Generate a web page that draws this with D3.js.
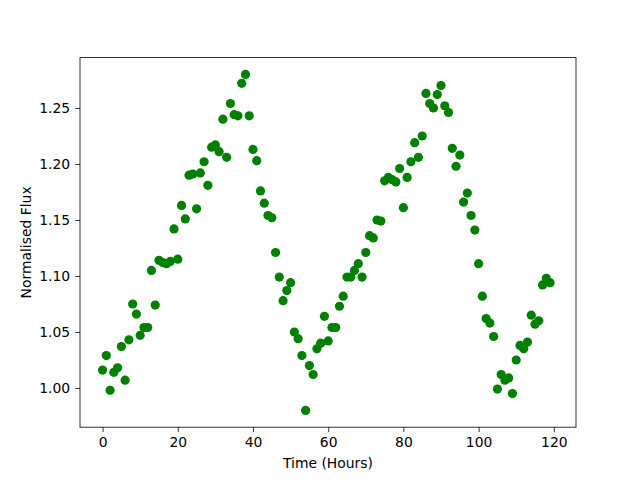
<!DOCTYPE html>
<html>
<head>
<meta charset="utf-8">
<script src="https://cdn.jsdelivr.net/npm/d3@7"></script>
<style>
  body { margin: 0; background: #fff; }
  text { font-family: "DejaVu Sans", sans-serif; }
</style>
</head>
<body>
<div id="chart"></div>
<script>
// time in hours, one reading per hour
var hours = d3.range(0, 120);
var flux = [
  1.016, 1.029, 0.998, 1.014, 1.018, 1.037, 1.007, 1.043, 1.075, 1.066,
  1.047, 1.054, 1.054, 1.105, 1.074, 1.114, 1.112, 1.111, 1.113, 1.142,
  1.115, 1.163, 1.151, 1.190, 1.191, 1.160, 1.192, 1.202, 1.181, 1.215,
  1.217, 1.211, 1.240, 1.206, 1.254, 1.244, 1.243, 1.272, 1.280, 1.243,
  1.213, 1.203, 1.176, 1.165, 1.154, 1.152, 1.121, 1.099, 1.078, 1.087,
  1.094, 1.050, 1.044, 1.029, 0.980, 1.020, 1.012, 1.035, 1.040, 1.064,
  1.042, 1.054, 1.054, 1.073, 1.082, 1.099, 1.099, 1.105, 1.111, 1.099,
  1.121, 1.136, 1.134, 1.150, 1.149, 1.185, 1.188, 1.186, 1.184, 1.196,
  1.161, 1.188, 1.202, 1.219, 1.206, 1.225, 1.263, 1.254, 1.250, 1.262,
  1.270, 1.252, 1.246, 1.214, 1.198, 1.208, 1.166, 1.174, 1.154, 1.141,
  1.111, 1.082, 1.062, 1.058, 1.046, 0.999, 1.012, 1.007, 1.009, 0.995,
  1.025, 1.038, 1.035, 1.041, 1.065, 1.057, 1.060, 1.092, 1.098, 1.094
];
var xTicks = [0, 20, 40, 60, 80, 100, 120];
var yTicks = [1.00, 1.05, 1.10, 1.15, 1.20, 1.25];

var width = 640, height = 480;
var margin = {left: 80, right: 64, top: 57.6, bottom: 52.8};

var svg = d3.select("#chart").append("svg")
    .attr("width", width)
    .attr("height", height);

var x = d3.scaleLinear()
    .domain([-6, 125.9])
    .range([margin.left, width - margin.right]);
var y = d3.scaleLinear()
    .domain([0.965, 1.295])
    .range([height - margin.bottom, margin.top]);

svg.selectAll("circle")
    .data(hours)
    .enter()
    .append("circle")
    .attr("cx", function(d){ return x(d); })
    .attr("cy", function(d, i){ return y(flux[i]); })
    .attr("r", 4.6)
    .attr("fill", "#008000");

var xAxis = svg.append("g")
    .attr("transform", "translate(0," + (height - margin.bottom) + ")")
    .call(d3.axisBottom(x).tickValues(xTicks).tickSize(4.9).tickPadding(4.9).tickFormat(d3.format("d")));
var yAxis = svg.append("g")
    .attr("transform", "translate(" + margin.left + ",0)")
    .call(d3.axisLeft(y).tickValues(yTicks).tickSize(4.9).tickPadding(4.9).tickFormat(d3.format(".2f")));

[xAxis, yAxis].forEach(function(a){
    a.select(".domain").remove();
    a.selectAll("line").attr("stroke", "#000").attr("stroke-width", 0.8);
    a.selectAll("text").attr("font-size", "13.9px").attr("fill", "#000")
        .style("font-family", "'DejaVu Sans', sans-serif");
});

// frame
svg.append("rect")
    .attr("x", margin.left)
    .attr("y", margin.top)
    .attr("width", width - margin.left - margin.right)
    .attr("height", height - margin.top - margin.bottom)
    .attr("fill", "none")
    .attr("stroke", "#000")
    .attr("stroke-width", 0.8);

svg.append("text")
    .attr("x", (margin.left + width - margin.right) / 2)
    .attr("y", 468)
    .attr("text-anchor", "middle")
    .attr("font-size", "13.9px")
    .text("Time (Hours)");

svg.append("text")
    .attr("transform", "translate(31," + ((margin.top + height - margin.bottom) / 2) + ") rotate(-90)")
    .attr("text-anchor", "middle")
    .attr("font-size", "13.9px")
    .text("Normalised Flux");
</script>
</body>
</html>
